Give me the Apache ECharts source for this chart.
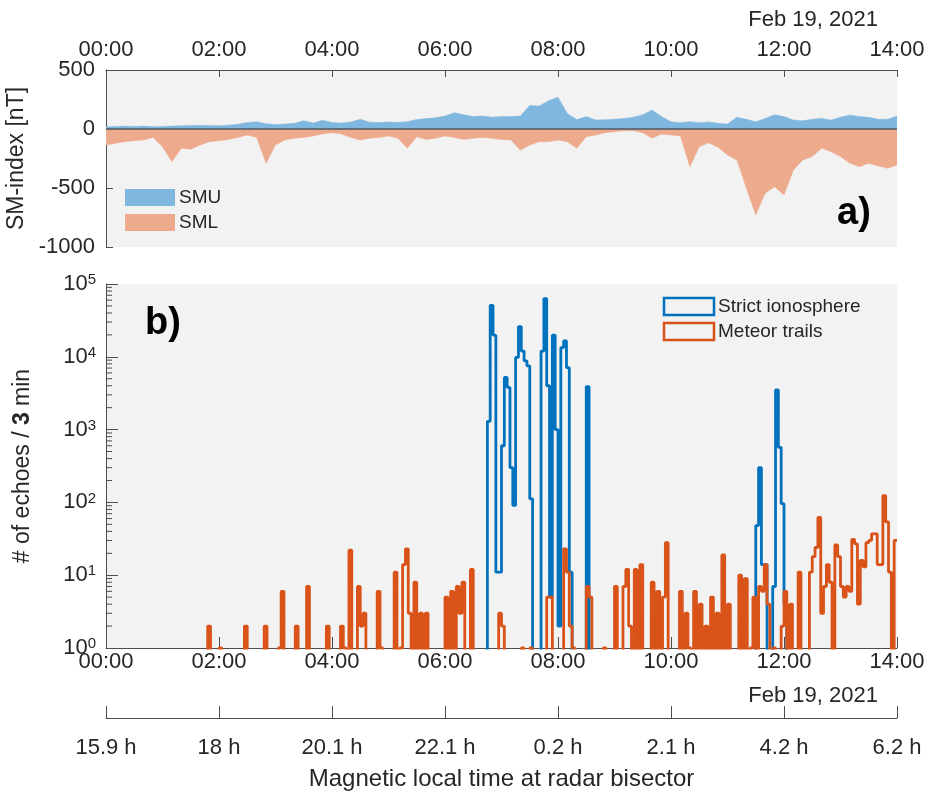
<!DOCTYPE html>
<html>
<head>
<meta charset="utf-8">
<title>SM-index and echo counts</title>
<script src="https://cdn.jsdelivr.net/npm/echarts@6/dist/echarts.min.js"></script>
<style>
  html, body { margin: 0; padding: 0; background: #fff; }
  #main { width: 934px; height: 795px; }
</style>
</head>
<body>
<div id="main"></div>
<script>
// ---- data -----------------------------------------------------------------
const timeTicks = ['00:00', '02:00', '04:00', '06:00', '08:00', '10:00', '12:00', '14:00'];
const mltTicks = ['15.9 h', '18 h', '20.1 h', '22.1 h', '0.2 h', '2.1 h', '4.2 h', '6.2 h'];
const dateLabel = 'Feb 19, 2021';

const SM_STEP = 10;  // minutes between SM samples
const BIN = 3;       // histogram bin width in minutes

// SMU / SML [nT], one value every 10 min from 00:00 to 14:00
const smu = [
  20, 22, 25, 22, 25, 20, 22, 25, 28, 30,
  32, 30, 28, 32, 40, 55, 62, 45, 38, 42,
  48, 70, 50, 75, 55, 50, 60, 82, 58, 55,
  60, 55, 62, 80, 88, 95, 110, 138, 120, 105,
  110, 100, 105, 105, 110, 200, 195, 240, 270, 130,
  80, 105, 76, 78, 82, 90, 100, 120, 160, 105,
  62, 54, 62, 54, 60, 48, 42, 100, 82, 62,
  90, 120, 105, 76, 70, 82, 90, 76, 99, 119,
  105, 99, 82, 82, 110
];
const sml = [
  -136, -121, -107, -99, -93, -71, -150, -277, -164, -172,
  -136, -107, -99, -88, -71, -51, -71, -291, -136, -93,
  -79, -71, -59, -42, -31, -42, -71, -93, -79, -71,
  -59, -79, -164, -65, -88, -79, -59, -71, -88, -79,
  -71, -79, -88, -93, -180, -136, -107, -107, -93, -107,
  -164, -65, -51, -31, -23, -14, -14, -31, -79, -42,
  -51, -59, -319, -150, -116, -155, -220, -263, -500, -729,
  -545, -489, -559, -347, -263, -234, -164, -192, -234, -291,
  -319, -291, -314, -333, -305
];

// echo counts per 3-min bin (280 bins, 00:00-14:00)
const strictIono = [
  0, 0, 0, 0, 0, 0, 0, 0, 0, 0, 0, 0, 0, 0, 0, 0, 0, 0, 0, 0,
  0, 0, 0, 0, 0, 0, 0, 0, 0, 0, 0, 0, 0, 0, 0, 0, 0, 0, 0, 0,
  0, 0, 0, 0, 0, 0, 0, 0, 0, 0, 0, 0, 0, 0, 0, 0, 0, 0, 0, 0,
  0, 0, 0, 0, 0, 0, 0, 0, 0, 0, 0, 0, 0, 0, 0, 0, 0, 0, 0, 0,
  0, 0, 0, 0, 0, 0, 0, 0, 0, 0, 0, 0, 0, 0, 0, 0, 0, 0, 0, 0,
  0, 0, 0, 0, 0, 0, 0, 0, 0, 0, 0, 0, 0, 0, 0, 0, 0, 0, 0, 0,
  0, 0, 0, 0, 0, 0, 0, 0, 0, 0, 0, 0, 0, 0, 0, 1300, 51000, 19800, 11, 11,
  600, 5200, 3800, 300, 91, 9800, 26000, 12000, 8800, 7500, 112, 0, 0, 0, 12000, 63000, 4000, 5, 19800, 1000,
  2, 13400, 16600, 7100, 11, 0, 0, 0, 0, 0, 3900, 0, 0, 0, 0, 0, 0, 0, 0, 0,
  0, 0, 0, 0, 0, 0, 0, 0, 0, 0, 0, 0, 0, 0, 0, 0, 0, 0, 0, 0,
  0, 0, 0, 0, 0, 0, 0, 0, 0, 0, 0, 0, 0, 0, 0, 0, 0, 0, 0, 0,
  0, 0, 0, 0, 0, 0, 0, 0, 0, 0, 48, 300, 14, 14, 0, 0, 7, 3500, 570, 96,
  4, 0, 0, 0, 0, 0, 0, 0, 0, 0, 0, 0, 0, 0, 0, 0, 0, 0, 0, 0,
  0, 0, 0, 0, 0, 0, 0, 0, 0, 0, 0, 0, 0, 0, 0, 0, 0, 0, 0, 0
];
const meteorTrails = [
  0, 0, 0, 0, 0, 0, 0, 0, 0, 0, 0, 0, 0, 0, 0, 0, 0, 0, 0, 0,
  0, 0, 0, 0, 0, 0, 0, 0, 0, 0, 0, 0, 0, 0, 0, 0, 2, 0, 0, 0,
  1, 0, 0, 0, 0, 0, 0, 0, 0, 2, 0, 0, 0, 0, 0, 0, 2, 0, 0, 0,
  0, 1, 6, 0, 0, 0, 0, 2, 0, 0, 0, 7, 0, 0, 0, 0, 0, 0, 2, 0,
  0, 0, 0, 2, 1, 0, 22, 0, 0, 7, 2, 3, 0, 0, 0, 0, 6, 1, 0, 0,
  0, 0, 11, 0, 1, 14, 23, 3, 0, 8, 0, 3, 0, 3, 0, 0, 0, 0, 0, 0,
  5, 0, 6, 0, 7, 3, 8, 0, 0, 12, 0, 0, 0, 0, 0, 0, 0, 0, 0, 3,
  2, 0, 0, 0, 0, 0, 0, 1, 0, 0, 1, 0, 0, 0, 0, 0, 5, 5, 0, 0,
  0, 0, 23, 11, 2, 1, 0, 0, 0, 0, 7, 5, 0, 0, 0, 0, 1, 0, 0, 0,
  7, 0, 0, 7, 12, 2, 0, 12, 0, 14, 0, 0, 0, 8, 0, 6, 0, 5, 28, 0,
  0, 0, 0, 6, 0, 3, 1, 0, 6, 0, 4, 0, 2, 0, 5, 0, 3, 0, 19, 0,
  4, 0, 0, 0, 10, 0, 9, 0, 1, 5, 0, 7, 6, 14, 4, 0, 1, 0, 0, 2,
  6, 0, 4, 0, 0, 11, 0, 0, 0, 11, 18, 24, 62, 3, 7, 14, 8, 0, 26, 18,
  7, 5, 7, 6, 31, 27, 4, 16, 13, 28, 30, 37, 37, 14, 14, 124, 54, 11, 0, 30
];

// ---- helpers ----------------------------------------------------------------
const FONT = 'Liberation Sans, Arial, Helvetica, sans-serif';
const TXT = '#262626';
const AX = '#4d4d4d';
const smuColor = '#80b7de';
const smlColor = '#eeaa8c';
const ionoColor = '#0072bd';
const meteorColor = '#d95319';

function smSeries(vals) {
  return vals.map((v, i) => [i * SM_STEP, v]);
}
// stairs: a point at each bin's left edge plus the closing right edge.
// empty bins go far below the log axis (like MATLAB's -inf) and get clipped
function stairs(counts) {
  const pts = counts.map((c, k) => [k * BIN, c > 0 ? c : 0.001]);
  const last = counts[counts.length - 1];
  pts.push([counts.length * BIN, last > 0 ? last : 0.001]);
  return pts;
}
const logMinor = [];
for (let d = 0; d < 5; d++) {
  for (let m = 2; m <= 9; m++) logMinor.push(m * Math.pow(10, d));
}

const chart = echarts.init(document.getElementById('main'), null, { renderer: 'canvas' });

chart.setOption({
  animation: false,
  backgroundColor: '#ffffff',
  textStyle: { fontFamily: FONT },
  grid: [
    { left: 106, top: 70, width: 791, height: 177, show: true, backgroundColor: '#f2f2f2', borderWidth: 0,
      containLabel: false, outerBoundsMode: 'none' },
    { left: 106, top: 284, width: 791, height: 364, show: true, backgroundColor: '#f2f2f2', borderWidth: 0,
      containLabel: false, outerBoundsMode: 'none' },
    { left: 106, top: 717, width: 791, height: 1, show: false,
      containLabel: false, outerBoundsMode: 'none' }
  ],
  xAxis: [
    {
      gridIndex: 0, type: 'value', min: 0, max: 840, interval: 120, position: 'top',
      axisLine: { show: true, onZero: false, lineStyle: { color: AX, width: 1 } },
      axisTick: { show: true, inside: true, length: 7, lineStyle: { color: AX } },
      axisLabel: { fontSize: 22, color: TXT, margin: 9, fontFamily: FONT,
        formatter: v => timeTicks[Math.round(v / 120)] },
      splitLine: { show: false }
    },
    {
      gridIndex: 1, type: 'value', min: 0, max: 840, interval: 120, position: 'bottom',
      axisLine: { show: true, onZero: false, lineStyle: { color: AX, width: 1 } },
      axisTick: { show: true, inside: true, length: 11, lineStyle: { color: AX } },
      axisLabel: { fontSize: 22, color: TXT, margin: 3, fontFamily: FONT,
        formatter: v => timeTicks[Math.round(v / 120)] },
      splitLine: { show: false }
    },
    {
      gridIndex: 2, type: 'value', min: 0, max: 840, interval: 120, position: 'bottom',
      axisLine: { show: true, onZero: false, lineStyle: { color: AX, width: 1 } },
      axisTick: { show: true, inside: true, length: 12, lineStyle: { color: AX } },
      axisLabel: { fontSize: 22, color: TXT, margin: 19, fontFamily: FONT,
        formatter: v => mltTicks[Math.round(v / 120)] },
      splitLine: { show: false },
      name: 'Magnetic local time at radar bisector', nameLocation: 'middle', nameGap: 49,
      nameTextStyle: { fontSize: 24, color: TXT, fontFamily: FONT }
    }
  ],
  yAxis: [
    {
      gridIndex: 0, type: 'value', min: -1000, max: 500, interval: 500,
      axisLine: { show: true, onZero: false, lineStyle: { color: AX, width: 1 } },
      axisTick: { show: true, inside: true, length: 7, lineStyle: { color: AX } },
      axisLabel: { fontSize: 22, color: TXT, margin: 11, fontFamily: FONT, formatter: v => String(v) },
      splitLine: { show: false },
      name: 'SM-index [nT]', nameLocation: 'middle', nameGap: 67,
      nameTextStyle: { fontSize: 23, color: TXT, fontFamily: FONT }
    },
    {
      gridIndex: 1, type: 'log', logBase: 10, min: 1, max: 100000,
      axisLine: { show: true, onZero: false, lineStyle: { color: AX, width: 1 } },
      axisTick: { show: true, inside: true, length: 12, lineStyle: { color: AX } },
      axisLabel: {
        fontSize: 22, color: TXT, margin: 10, fontFamily: FONT,
        formatter: v => '10{e|' + Math.round(Math.log10(v)) + '}',
        rich: { e: { fontSize: 15, color: TXT, fontFamily: FONT, verticalAlign: 'top', padding: [0, 0, 8, 0] } }
      },
      splitLine: { show: false },
      name: '# of echoes / {b|3} min', nameLocation: 'middle', nameGap: 72,
      nameTextStyle: { fontSize: 23, color: TXT, fontFamily: FONT,
        rich: { b: { fontSize: 23, fontWeight: 'bold', color: TXT, fontFamily: FONT } } }
    },
    { gridIndex: 2, type: 'value', min: 0, max: 1, show: false }
  ],
  series: [
    {
      name: 'SMU', type: 'line', xAxisIndex: 0, yAxisIndex: 0,
      data: smSeries(smu), showSymbol: false, symbol: 'none',
      lineStyle: { color: smuColor, width: 0.5 },
      areaStyle: { color: smuColor, opacity: 1 }, z: 2
    },
    {
      name: 'SML', type: 'line', xAxisIndex: 0, yAxisIndex: 0,
      data: smSeries(sml), showSymbol: false, symbol: 'none',
      lineStyle: { color: smlColor, width: 0.5 },
      areaStyle: { color: smlColor, opacity: 1 }, z: 2,
      markLine: {
        silent: true, symbol: 'none', label: { show: false },
        lineStyle: { color: '#4b5863', width: 1.5, type: 'solid' },
        data: [{ yAxis: 0 }]
      }
    },
    {
      name: 'Strict ionosphere', type: 'line', xAxisIndex: 1, yAxisIndex: 1,
      data: stairs(strictIono), step: 'end', showSymbol: false, symbol: 'none',
      lineStyle: { color: ionoColor, width: 2.8 }, clip: true, z: 3
    },
    {
      name: 'Meteor trails', type: 'line', xAxisIndex: 1, yAxisIndex: 1,
      data: stairs(meteorTrails), step: 'end', showSymbol: false, symbol: 'none',
      lineStyle: { color: meteorColor, width: 2.8 }, clip: true, z: 4
    },
    {
      // minor log ticks at 2..9 x 10^n
      type: 'custom', xAxisIndex: 1, yAxisIndex: 1, silent: true, z: 5,
      data: logMinor.map(v => [0, v]),
      renderItem: (params, api) => {
        const p = api.coord([0, api.value(1)]);
        return { type: 'line', shape: { x1: p[0], y1: p[1], x2: p[0] + 6, y2: p[1] },
          style: { stroke: AX, lineWidth: 1 } };
      }
    },
    { type: 'line', xAxisIndex: 2, yAxisIndex: 2, data: [], silent: true }
  ],
  graphic: [
    { type: 'text', x: 878, y: 20, style: { text: dateLabel, font: '22px ' + FONT, fill: TXT, align: 'right', verticalAlign: 'middle' } },
    { type: 'text', x: 878, y: 696, style: { text: dateLabel, font: '22px ' + FONT, fill: TXT, align: 'right', verticalAlign: 'middle' } },
    { type: 'text', x: 854, y: 214, style: { text: 'a)', font: 'bold 38px ' + FONT, fill: '#000', align: 'center', verticalAlign: 'middle' } },
    { type: 'text', x: 163, y: 324, style: { text: 'b)', font: 'bold 38px ' + FONT, fill: '#000', align: 'center', verticalAlign: 'middle' } },
    // legend, panel a
    { type: 'rect', shape: { x: 125, y: 189, width: 50, height: 17 }, style: { fill: smuColor } },
    { type: 'rect', shape: { x: 125, y: 214, width: 50, height: 17 }, style: { fill: smlColor } },
    { type: 'text', x: 179, y: 198, style: { text: 'SMU', font: '19px ' + FONT, fill: TXT, verticalAlign: 'middle' } },
    { type: 'text', x: 179, y: 223, style: { text: 'SML', font: '19px ' + FONT, fill: TXT, verticalAlign: 'middle' } },
    // legend, panel b
    { type: 'rect', shape: { x: 664, y: 298, width: 50, height: 17 }, style: { fill: 'none', stroke: ionoColor, lineWidth: 2.5 } },
    { type: 'rect', shape: { x: 664, y: 323, width: 50, height: 17 }, style: { fill: 'none', stroke: meteorColor, lineWidth: 2.5 } },
    { type: 'text', x: 718, y: 307, style: { text: 'Strict ionosphere', font: '19px ' + FONT, fill: TXT, verticalAlign: 'middle' } },
    { type: 'text', x: 718, y: 332, style: { text: 'Meteor trails', font: '19px ' + FONT, fill: TXT, verticalAlign: 'middle' } }
  ]
});
</script>
</body>
</html>
